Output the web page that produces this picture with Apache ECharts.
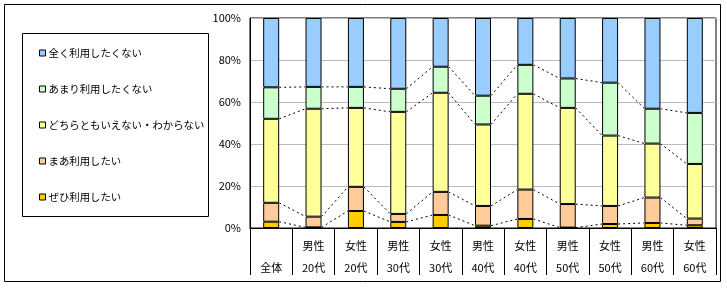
<!DOCTYPE html>
<html>
<head>
<meta charset="utf-8">
<script src="https://cdn.jsdelivr.net/npm/echarts@6/dist/echarts.min.js"></script>
<style>
  html, body { margin: 0; padding: 0; background: #fff; }
  #chart { width: 727px; height: 289px; }
</style>
</head>
<body>
<div id="chart"></div>
<script>
  // categories (top line / bottom line of the label table)
  var groups = ['', '男性', '女性', '男性', '女性', '男性', '女性', '男性', '女性', '男性', '女性'];
  var ages = ['全体', '20代', '20代', '30代', '30代', '40代', '40代', '50代', '50代', '60代', '60代'];

  // percentages
  var zehi   = [3.0, 0.3, 8.1, 2.9, 6.2, 1.1, 4.3, 0.2, 1.9, 2.4, 1.3];
  var maa    = [9.0, 5.1, 11.5, 3.8, 11.0, 9.4, 14.0, 11.2, 8.6, 12.1, 3.2];
  var dochi  = [40.0, 51.4, 37.6, 48.6, 47.2, 38.8, 45.6, 45.8, 33.5, 25.7, 26.0];
  var amari  = [15.0, 10.4, 10.0, 11.0, 12.4, 13.7, 13.8, 14.0, 25.2, 16.6, 24.3];
  var mattaku = [33.0, 32.8, 32.8, 33.7, 23.2, 37.0, 22.3, 28.8, 30.8, 43.2, 45.2];

  var names = ['ぜひ利用したい', 'まあ利用したい', 'どちらともいえない・わからない', 'あまり利用したくない', '全く利用したくない'];
  var colors = ['#FFCC00', '#FFCC99', '#FFFF99', '#CCFFCC', '#99CCFF'];
  var yTicks = [0, 20, 40, 60, 80, 100];

  var values = [zehi, maa, dochi, amari, mattaku];
  var cats = groups.map(function (g, i) { return g + '|' + ages[i]; });

  // running totals for the dashed connector lines
  var cum = [];
  var run = zehi.map(function () { return 0; });
  for (var k = 0; k < 4; k++) {
    run = run.map(function (v, i) { return v + values[k][i]; });
    cum.push(run.slice());
  }
  var linkData = [];
  for (var i = 0; i < cats.length - 1; i++) {
    var row = [i, i + 1];
    for (var k = 0; k < 4; k++) row.push(cum[k][i], cum[k][i + 1]);
    linkData.push(row);
  }

  var BAR_W = 16;
  var font = '"Noto Sans CJK JP", sans-serif';

  var chart = echarts.init(document.getElementById('chart'));

  var series = names.map(function (n, k) {
    return {
      name: n,
      type: 'bar',
      stack: 'all',
      barWidth: BAR_W,
      data: values[k],
      itemStyle: { color: colors[k], borderColor: '#000', borderWidth: 1 },
      emphasis: { disabled: true }
    };
  });

  series.push({
    type: 'custom',
    silent: true,
    data: linkData,
    encode: { x: 0, y: 2 },
    renderItem: function (params, api) {
      var a = api.value(0), b = api.value(1);
      var kids = [];
      for (var k = 0; k < 4; k++) {
        var p1 = api.coord([a, api.value(2 + k * 2)]);
        var p2 = api.coord([b, api.value(3 + k * 2)]);
        kids.push({
          type: 'line',
          shape: { x1: p1[0] + BAR_W / 2, y1: p1[1], x2: p2[0] - BAR_W / 2, y2: p2[1] },
          style: { stroke: '#000', lineWidth: 1, lineDash: [2, 3] }
        });
      }
      return { type: 'group', children: kids };
    }
  });

  var option = {
    backgroundColor: '#fff',
    animation: false,
    color: colors,
    textStyle: { fontFamily: font },
    graphic: [
      {
        type: 'rect',
        shape: { x: 4.5, y: 4.5, width: 716, height: 277 },
        style: { fill: null, stroke: '#000', lineWidth: 1 }
      },
      {
        type: 'rect',
        shape: { x: 22.5, y: 33.5, width: 186, height: 183 },
        style: { fill: null, stroke: '#000', lineWidth: 1 }
      }
    ],
    legend: {
      orient: 'vertical',
      left: 39,
      top: 46,
      padding: 0,
      itemWidth: 6,
      itemHeight: 6,
      itemGap: 22,
      icon: 'rect',
      selectedMode: false,
      data: names.slice().reverse(),
      itemStyle: { borderColor: '#000', borderWidth: 1 },
      textStyle: { fontSize: 10.4, color: '#000', fontFamily: font, lineHeight: 14, padding: [0, 0, 0, -2] }
    },
    grid: {
      left: 250,
      right: 11,
      top: 18,
      bottom: 61,
      show: true,
      borderColor: '#000',
      borderWidth: 1
    },
    xAxis: {
      type: 'category',
      data: cats,
      axisLine: { lineStyle: { color: '#000', width: 1 } },
      axisTick: { show: true, length: 47, lineStyle: { color: '#000' } },
      axisLabel: {
        margin: 7,
        interval: 0,
        color: '#000',
        fontSize: 11,
        fontFamily: font,
        lineHeight: 22,
        formatter: function (v) {
          var p = v.split('|');
          return (p[0] || ' ') + '\n' + p[1];
        }
      }
    },
    yAxis: {
      type: 'value',
      min: yTicks[0],
      max: yTicks[yTicks.length - 1],
      interval: 20,
      axisLine: { show: true, lineStyle: { color: '#000' } },
      axisTick: { show: false },
      splitLine: { lineStyle: { color: '#BBBBBB' } },
      axisLabel: { color: '#000', fontSize: 11, fontFamily: font, margin: 9, formatter: '{value}%' }
    },
    series: series
  };

  option && chart.setOption(option);
</script>
</body>
</html>
